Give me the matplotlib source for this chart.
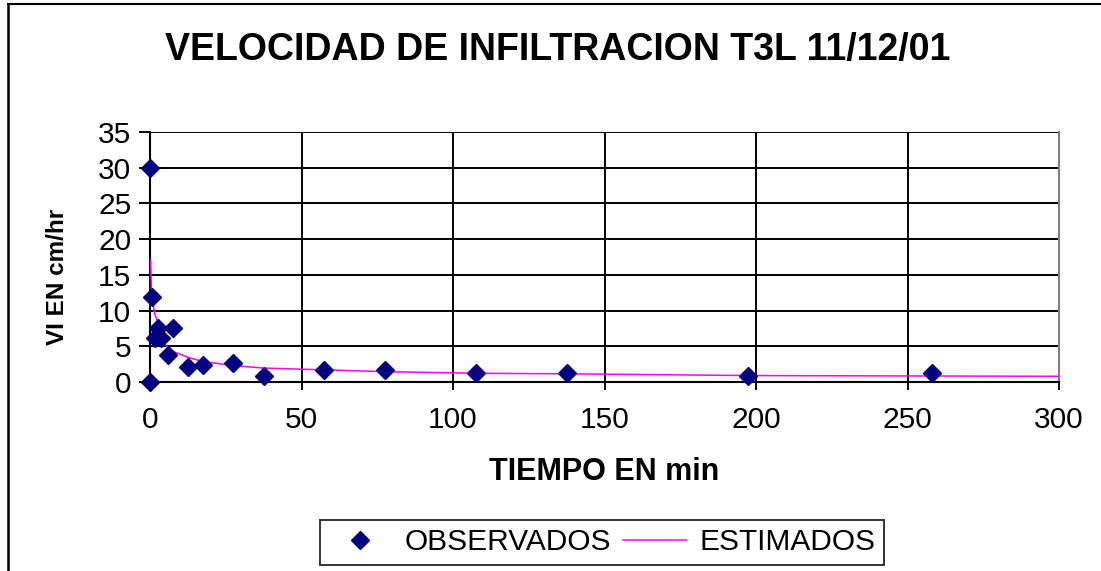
import matplotlib
matplotlib.use("Agg")
import matplotlib.pyplot as plt
from matplotlib.lines import Line2D

# ---- data ----
obs_t = [0, 0, 0.5, 1.5, 2.5, 3.5, 6, 7.5, 12.5, 17.5, 27.5, 37.5, 57.5, 77.5, 107.5, 137.5, 197.5, 258]
obs_v = [0, 30, 11.9, 6.1, 7.6, 6.1, 3.8, 7.5, 2.05, 2.4, 2.6, 0.85, 1.7, 1.7, 1.2, 1.2, 0.85, 1.2]

est_t = [0.2, 0.5, 1.5, 2.5, 3.5, 6, 7.5, 12.5, 17.5, 27.5, 37.5, 57.5, 77.5, 107.5, 137.5, 197.5, 258, 300]
est_v = [17.1, 12.5, 9.6, 8.5, 6.5, 4.6, 4.3, 3.45, 2.85, 2.3, 1.95, 1.7, 1.45, 1.22, 1.15, 0.9, 0.84, 0.8]

x_ticks = [0, 50, 100, 150, 200, 250, 300]
y_ticks = [0, 5, 10, 15, 20, 25, 30, 35]

title = "VELOCIDAD DE INFILTRACION T3L 11/12/01"
xlabel = "TIEMPO EN min"
ylabel = "VI EN cm/hr"
legend_labels = ["OBSERVADOS", "ESTIMADOS"]

# ---- figure ----
W, H = 1101, 571
fig = plt.figure(figsize=(W / 100, H / 100), dpi=100)
plt.rcParams['font.family'] = ['Liberation Sans', 'DejaVu Sans']

def fx(px):
    return px / W

def fy(py):
    return 1 - py / H

ax = fig.add_axes([fx(150), fy(382), (1059 - 150) / W, (382 - 132) / H])
ax.set_xlim(0, 300)
ax.set_ylim(0, 35)
ax.set_xticks(x_ticks)
ax.set_yticks(y_ticks)
ax.set_xticklabels([str(v) for v in x_ticks])
ax.set_yticklabels([str(v) for v in y_ticks])
ax.grid(True, color='black', linewidth=1.4)
ax.set_axisbelow(True)

for s in ['left', 'bottom']:
    ax.spines[s].set_color('black')
    ax.spines[s].set_linewidth(1.5)
ax.spines['top'].set_visible(False)
ax.spines['right'].set_color('#808080')
ax.spines['right'].set_linewidth(1.5)

ax.tick_params(axis='x', length=6, width=1.4, pad=11, labelsize=21.5, direction='out')
ax.tick_params(axis='y', length=8, width=1.4, pad=5.5, labelsize=21.5, direction='out')

line, = ax.plot(est_t, est_v, color='#FF00FF', linewidth=1.1, zorder=3)
pts, = ax.plot(obs_t, obs_v, linestyle='none', marker='D', markersize=9.5,
               color='#000080', markeredgecolor='#000080', zorder=4, clip_on=False)

# title and labels
fig.text(fx(558), fy(60), title, ha='center', va='baseline',
         fontsize=27, fontweight='bold')
fig.text(fx(604), fy(480), xlabel, ha='center', va='baseline',
         fontsize=22, fontweight='bold')
fig.text(fx(58), fy(277), ylabel, ha='center', va='center', rotation=90,
         fontsize=17.5, fontweight='bold')

# legend
leg = fig.legend([pts, line], legend_labels, loc='center',
                 bbox_to_anchor=(fx(602), fy(542.5)), ncol=2,
                 frameon=True, fancybox=False, shadow=False,
                 fontsize=21.5, handlelength=2.1, handletextpad=0.45,
                 columnspacing=0.4, borderpad=0.3, borderaxespad=0)
leg.get_frame().set_edgecolor('black')
leg.get_frame().set_linewidth(1.4)

# outer chart frame (top and left edges visible)
fig.add_artist(Line2D([fx(8), 1], [fy(4), fy(4)], color='black', linewidth=1.5,
                      transform=fig.transFigure))
fig.add_artist(Line2D([fx(8), fx(8)], [fy(4), 0], color='black', linewidth=1.8,
                      transform=fig.transFigure))

fig.savefig("out.png", dpi=100)
